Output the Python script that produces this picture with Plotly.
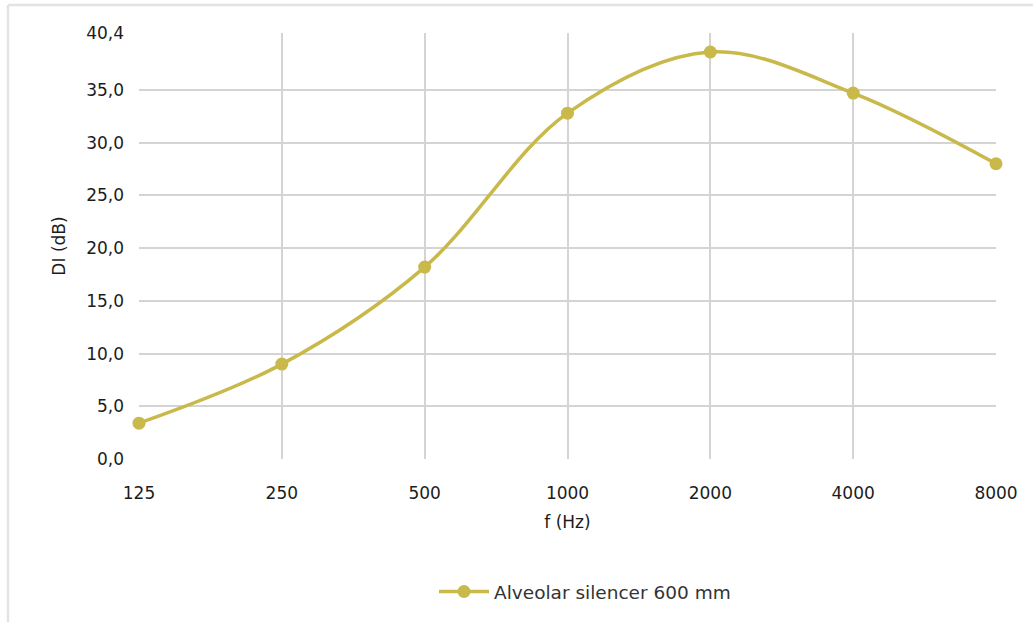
import plotly.graph_objects as go

# Frequenze (bande d'ottava) e attenuazione DI
frequenze = ["125", "250", "500", "1000", "2000", "4000", "8000"]
di_db = [3.4, 9.0, 18.2, 32.8, 38.6, 34.7, 28.0]
nome_serie = "Alveolar silencer 600 mm"

y_ticks = [0, 5, 10, 15, 20, 25, 30, 35, 40.4]
y_labels = ["0,0", "5,0", "10,0", "15,0", "20,0", "25,0", "30,0", "35,0", "40,4"]

W, H = 1033, 622
L, R, T, B = 139, 37, 33, 162
pw, ph = W - L - R, H - T - B

colore = "#C9B84A"
griglia = "#D4D4D4"

fig = go.Figure()
fig.add_trace(go.Scatter(
    x=frequenze,
    y=di_db,
    name=nome_serie,
    mode="lines+markers",
    line=dict(color=colore, width=3.5, shape="spline", smoothing=1.0),
    marker=dict(color=colore, size=13),
    cliponaxis=False,
))

# cornice grigia esterna (solo lato alto e sinistro visibili)
fx = lambda px: (px - L) / pw
fy = lambda py: (H - B - py) / ph
fig.add_shape(type="line", xref="paper", yref="paper",
              x0=fx(8), x1=fx(1040), y0=fy(5), y1=fy(5),
              line=dict(color="#E3E3E3", width=2.5))
fig.add_shape(type="line", xref="paper", yref="paper",
              x0=fx(8), x1=fx(8), y0=fy(5), y1=fy(630),
              line=dict(color="#E3E3E3", width=2.5))

fig.update_layout(
    width=W, height=H,
    margin=dict(l=L, r=R, t=T, b=B),
    paper_bgcolor="white",
    plot_bgcolor="white",
    font=dict(family="DejaVu Sans, sans-serif", size=17, color="#1c1c1c"),
    showlegend=True,
    legend=dict(
        orientation="h",
        x=fx(434), xanchor="left",
        y=fy(592), yanchor="middle",
        font=dict(size=18.5, color="#333333"),
        itemwidth=50,
    ),
    xaxis=dict(
        type="category",
        range=[0, 6],
        showgrid=True, gridcolor=griglia, gridwidth=2,
        zeroline=False,
        showline=False,
        ticks="", ticklabelstandoff=22,
        title=dict(text="f (Hz)", standoff=14, font=dict(size=17)),
    ),
    yaxis=dict(
        range=[0, 40.4],
        tickvals=y_ticks, ticktext=y_labels,
        showgrid=True, gridcolor=griglia, gridwidth=2,
        zeroline=False,
        showline=False,
        ticks="", ticklabelstandoff=14,
        title=dict(text="DI (dB)", standoff=16, font=dict(size=17)),
    ),
)

fig.write_html("out.html", config={"displayModeBar": False},
               post_script="document.body.style.margin='0';")
